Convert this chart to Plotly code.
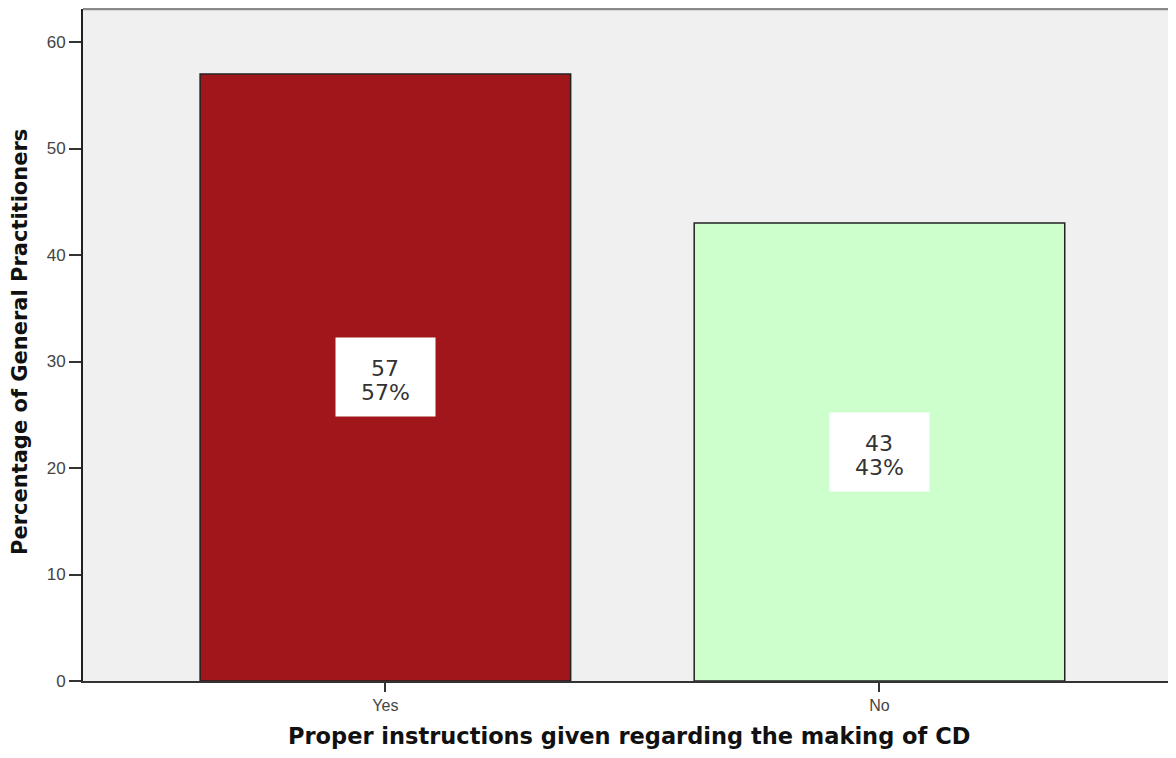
import plotly.graph_objects as go

categories = ["Yes", "No"]
values = [57, 43]
count_labels = ["57", "43"]
pct_labels = ["57%", "43%"]
bar_colors = ["#A0161A", "#CCFFCC"]
y_ticks = [0, 10, 20, 30, 40, 50, 60]
x_title = "Proper instructions given regarding the making of CD"
y_title = "Percentage of General Practitioners"

fig = go.Figure()
fig.add_trace(go.Bar(
    x=[0, 1], y=values, width=0.75,
    marker=dict(color=bar_colors, line=dict(color="#222222", width=1.5)),
    hoverinfo="skip", showlegend=False,
))

label_font = dict(family="DejaVu Sans", size=22, color="#333333")
for i, v in enumerate(values):
    fig.add_annotation(
        x=i, y=v / 2, text=" ", showarrow=False,
        bgcolor="white", borderpad=0, width=99, height=78,
    )
    fig.add_annotation(x=i, y=v / 2, text=count_labels[i], showarrow=False,
                       font=label_font, yshift=9)
    fig.add_annotation(x=i, y=v / 2, text=pct_labels[i], showarrow=False,
                       font=label_font, yshift=-15)

# plot area: page x 83..1168 (1085 px), page y 9..681 (672 px)
fig.add_annotation(
    xref="paper", yref="paper", x=(629 - 83) / 1085, y=-(736 - 681) / 672,
    xanchor="center", yanchor="middle",
    text="<b>" + x_title + "</b>", showarrow=False,
    font=dict(family="DejaVu Sans", size=22.5, color="#111111"),
)
fig.add_annotation(
    xref="paper", yref="paper", x=-(83 - 20) / 1085, y=0.5045,
    xanchor="center", yanchor="middle",
    text="<b>" + y_title + "</b>", showarrow=False, textangle=-90,
    font=dict(family="DejaVu Sans", size=21, color="#111111"),
)

fig.add_shape(type="line", xref="paper", yref="paper", x0=0, x1=1, y0=1, y1=1,
              line=dict(color="#8a8a8a", width=2.5))

fig.update_layout(
    width=1160, height=742,
    margin=dict(l=75, r=0, t=1, b=69, pad=0),
    paper_bgcolor="white", plot_bgcolor="#F0F0F0",
    font=dict(family="Liberation Sans, Arial", color="#333333"),
    xaxis=dict(
        range=[-0.612, 1.584], tickmode="array", tickvals=[0, 1], ticktext=categories,
        ticks="outside", ticklen=9, tickcolor="#333333", tickwidth=1.5,
        showgrid=False, zeroline=False, showline=True, linecolor="#333333", linewidth=2,
        tickfont=dict(size=16, color="#444444"),
    ),
    yaxis=dict(
        range=[0, 63.1], tickmode="array", tickvals=y_ticks,
        ticks="outside", ticklen=12, tickcolor="#333333", tickwidth=1.5,
        showgrid=False, zeroline=False, showline=True, linecolor="#222222", linewidth=2,
        tickfont=dict(size=17, color="#444444"),
    ),
)

fig.write_html("out.html")
